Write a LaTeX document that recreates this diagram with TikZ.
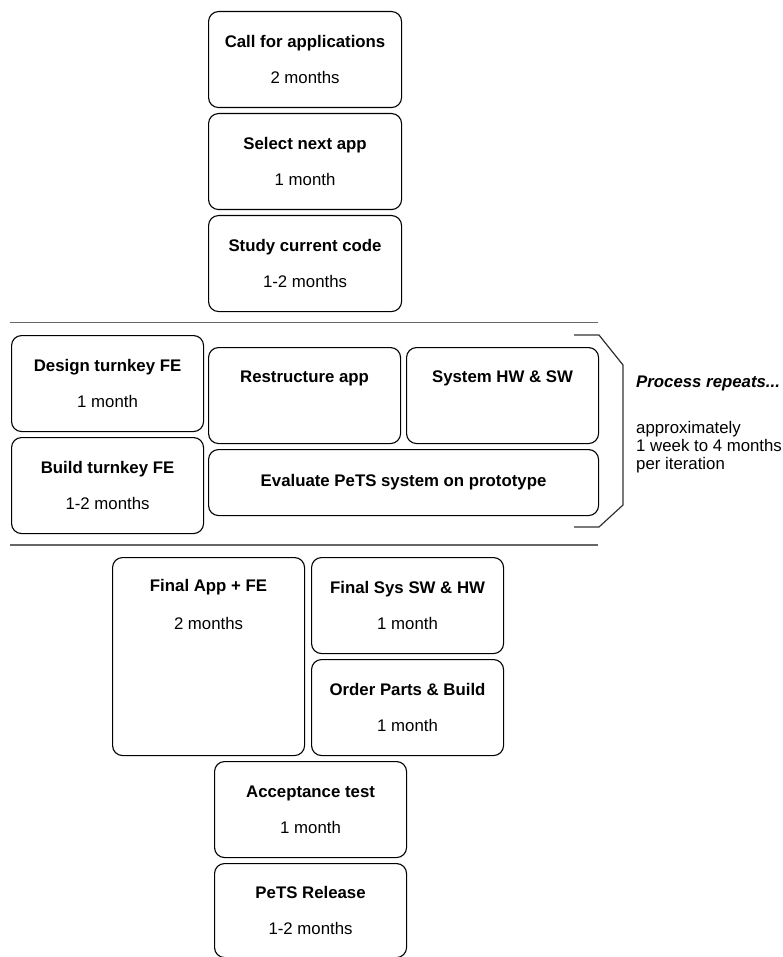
\documentclass[tikz,border=0pt]{standalone}
\usepackage{fontspec}
\setmainfont{Liberation Sans}
\usetikzlibrary{positioning}
\begin{document}
\begin{tikzpicture}[
        x=1pt, y=-1pt,
        box/.style={draw, rounded corners=10pt, line width=1.1pt, anchor=north west,
                    minimum width=192pt, minimum height=96pt, inner sep=0pt,
                    align=center, font=\fontsize{16.8}{19}\selectfont},
        title/.style={font=\fontsize{16.8}{19}\selectfont\bfseries, inner sep=0pt},
        dur/.style={font=\fontsize{16.8}{19}\selectfont, inner sep=0pt},
        sep/.style={draw=black!60, line width=1.3pt},
        brace/.style={draw=black!80, line width=1.2pt, line join=miter}
      ]
        \useasboundingbox (0,0) rectangle (782,957);

        % intake
        \node[box, minimum width=193pt] (call) at (208,11)
          {\textbf{Call for applications}\\[17pt]2 months};
        \node[box, minimum width=193pt] (select) at (208,113)
          {\textbf{Select next app}\\[17pt]1 month};
        \node[box, minimum width=193pt] (study) at (208,215)
          {\textbf{Study current code}\\[17pt]1-2 months};

        \draw[sep] (10,322.5) -- (598,322.5);

        % iteration
        \node[box] (design) at (11,335) {\textbf{Design turnkey FE}\\[17pt]1 month};
        \node[box] (build) at (11,437) {\textbf{Build turnkey FE}\\[17pt]1-2 months};
        \node[box] (restructure) at (208,347) {};
        \node[title] at ([yshift=-31pt]restructure.north) {Restructure app};
        \node[box] (system) at (406,347) {};
        \node[title] at ([yshift=-31pt]system.north) {System HW \& SW};
        \node[box, minimum width=390pt, minimum height=66pt] (evaluate) at (208,449)
          {\textbf{Evaluate PeTS system on prototype}};

        \draw[brace] (574,335) -- (599,335) -- (623,365) -- (623,505)
          -- (599,527) -- (574,527);
        \node[title, font=\fontsize{16.8}{19}\selectfont\bfseries\itshape, anchor=west]
          (repeats) at (636,383) {Process repeats...};
        \node[dur, anchor=north west, align=left,
              font=\fontsize{16.8}{18}\selectfont] (approx) at (636,421)
          {approximately\\1 week to 4 months\\per iteration};

        \draw[sep] (10,545) -- (598,545);

        % final
        \node[box, minimum height=198pt] (finalapp) at (112,557) {};
        \node[title] at ([yshift=-30pt]finalapp.north) {Final App + FE};
        \node[dur] at ([yshift=-66pt]finalapp.north) {2 months};
        \node[box] (finalsys) at (311,557) {\textbf{Final Sys SW \& HW}\\[17pt]1 month};
        \node[box] (order) at (311,659) {\textbf{Order Parts \& Build}\\[17pt]1 month};
        \node[box] (accept) at (214,761) {\textbf{Acceptance test}\\[17pt]1 month};
        \node[box, minimum height=94pt] (release) at (214,863)
          {\textbf{PeTS Release}\\[17pt]1-2 months};
      \end{tikzpicture}
\end{document}
